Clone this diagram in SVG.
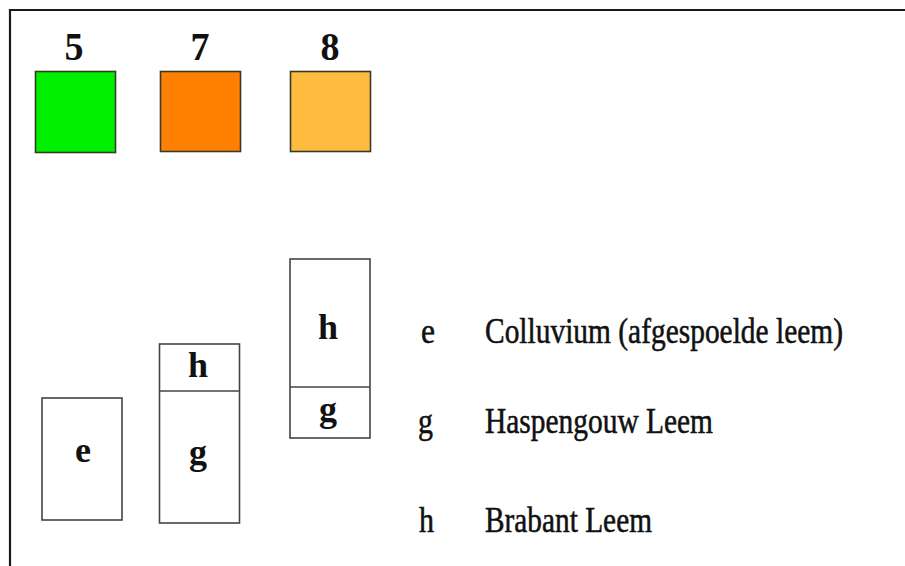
<svg xmlns="http://www.w3.org/2000/svg" width="905" height="566" viewBox="0 0 905 566">
<style>
.frame{fill:none;stroke:#1a1a1a;stroke-width:2.2}
.sq{stroke:#3a3a2a;stroke-width:1.6}
.box{fill:#fff;stroke:#444;stroke-width:1.6}
.num{font-family:"Liberation Serif",serif;font-weight:bold;font-size:40px;fill:#111;text-anchor:middle}
.lbl{font-family:"Liberation Serif",serif;font-weight:bold;font-size:36px;fill:#111;text-anchor:middle}
.leg{font-family:"Liberation Serif",serif;font-size:32px;fill:#111;stroke:#111;stroke-width:0.5}
</style>
<rect width="905" height="566" fill="#fff"/>
<path class="frame" d="M10,566 V10 H905"/>
<g id="legend-colors">
<g id="c5"><text class="num" x="74" y="60" textLength="19" lengthAdjust="spacingAndGlyphs">5</text><rect class="sq" x="35.5" y="71.5" width="80" height="81" fill="#00f000"/></g>
<g id="c7"><text class="num" x="200" y="60" textLength="19" lengthAdjust="spacingAndGlyphs">7</text><rect class="sq" x="160.5" y="71.5" width="80" height="80" fill="#ff7f00"/></g>
<g id="c8"><text class="num" x="330" y="60" textLength="19" lengthAdjust="spacingAndGlyphs">8</text><rect class="sq" x="290.5" y="71.5" width="80" height="80" fill="#fdbb40"/></g>
</g>
<g id="col5"><rect class="box" x="42" y="398" width="80" height="122"/><text class="lbl" x="83" y="462">e</text></g>
<g id="col7"><rect class="box" x="159.5" y="344" width="80" height="179"/><line class="box" x1="159.5" y1="391" x2="239.5" y2="391"/><text class="lbl" x="198" y="377">h</text><text class="lbl" x="198" y="464">g</text></g>
<g id="col8"><rect class="box" x="290" y="259" width="80" height="179"/><line class="box" x1="290" y1="387" x2="370" y2="387"/><text class="lbl" x="328" y="339">h</text><text class="lbl" x="328" y="421">g</text></g>
<g id="legend-text">
<g transform="translate(0,343) scale(1,1.12)"><text class="leg" x="421" y="0" textLength="14" lengthAdjust="spacingAndGlyphs">e</text><text class="leg" x="485" y="0" textLength="358" lengthAdjust="spacingAndGlyphs">Colluvium (afgespoelde leem)</text></g>
<g transform="translate(0,433) scale(1,1.12)"><text class="leg" x="418" y="0" textLength="15" lengthAdjust="spacingAndGlyphs">g</text><text class="leg" x="485" y="0" textLength="228" lengthAdjust="spacingAndGlyphs">Haspengouw Leem</text></g>
<g transform="translate(0,532) scale(1,1.12)"><text class="leg" x="419" y="0" textLength="15" lengthAdjust="spacingAndGlyphs">h</text><text class="leg" x="485" y="0" textLength="167" lengthAdjust="spacingAndGlyphs">Brabant Leem</text></g>
</g>
</svg>
